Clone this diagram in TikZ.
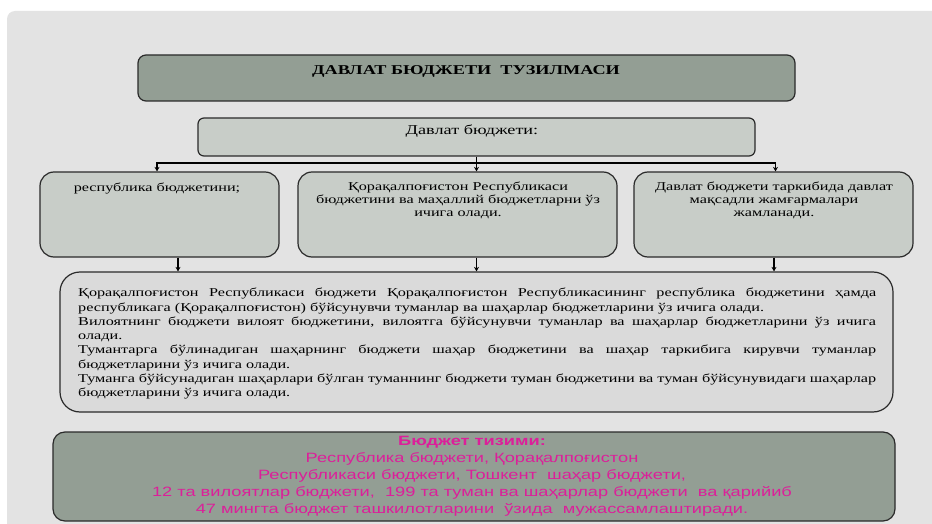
\documentclass[tikz,border=0pt]{standalone}
\usepackage{fontspec}
\setmainfont{Liberation Serif}
\newfontfamily\bodyfont[FakeStretch=1.35]{Liberation Serif}
\newfontfamily\pinkfont[FakeStretch=1.35]{Liberation Sans}
\usetikzlibrary{arrows.meta}
\definecolor{panel}{HTML}{E3E3E3}
\definecolor{darkfill}{HTML}{939E94}
\definecolor{lightfill}{HTML}{C8CDC8}
\definecolor{bigfill}{HTML}{DADADA}
\definecolor{edge}{HTML}{2A2A2A}
\definecolor{pinktext}{HTML}{DC1F9A}
\begin{document}
\begin{tikzpicture}[x=1pt,y=-1pt,
  boxbase/.style={draw=edge,line width=1.2pt,inner sep=0pt},
  darkbox/.style={boxbase,fill=darkfill},
  lightbox/.style={boxbase,fill=lightfill},
  bigbox/.style={boxbase,fill=bigfill,rounded corners=20pt},
  conn/.style={draw=black,line width=1.1pt},
  arrowline/.style={conn,-{Stealth[length=4.5pt,width=5pt]}},
  smalltext/.style={inner sep=0pt,align=center,font={\bodyfont\fontsize{12}{13}\selectfont}},
  pinklines/.style={inner sep=0pt,align=center,text=pinktext,font={\pinkfont\fontsize{13.5}{17}\selectfont}}
]
\useasboundingbox (0,0) rectangle (932,524);
\fill[white] (0,0) rectangle (932,524);
\fill[panel] (7,524) [rounded corners=8pt] -- (7,11) [sharp corners] -- (932,11) -- (932,524) -- cycle;

% boxes
\node[darkbox,rounded corners=8pt,minimum width=657pt,minimum height=46pt] (title) at (466.5,78) {};
\node[lightbox,rounded corners=6pt,minimum width=557pt,minimum height=38pt] (db) at (476.5,137) {};
\node[lightbox,rounded corners=14pt,minimum width=239pt,minimum height=85pt] (L) at (159.5,214.5) {};
\node[lightbox,rounded corners=14pt,minimum width=319pt,minimum height=85pt] (M) at (457.5,214.5) {};
\node[lightbox,rounded corners=14pt,minimum width=279pt,minimum height=85pt] (R) at (773.5,214.5) {};
\node[bigbox,minimum width=833pt,minimum height=140pt] (big) at (476.5,342) {};
\node[darkbox,rounded corners=12pt,minimum width=842pt,minimum height=89pt] (bottom) at (474,476.5) {};

% texts
\node[inner sep=0pt,font={\bodyfont\bfseries\fontsize{13.5}{15}\selectfont},anchor=base] (titletext) at (466,75) {ДАВЛАТ БЮДЖЕТИ\ \ ТУЗИЛМАСИ};
\node[inner sep=0pt,font={\bodyfont\fontsize{13.5}{15}\selectfont},anchor=base] (dbtext) at (472,135) {Давлат бюджети:};
\node[smalltext,anchor=base] (Ltext) at (157,191) {республика бюджетини;};
\node[smalltext,anchor=north] (Mtext) at (458,181.5) {Қорақалпоғистон Республикаси\\бюджетини ва маҳаллий бюджетларни ўз\\ичига олади.};
\node[smalltext,anchor=north] (Rtext) at (774,181.5) {Давлат бюджети таркибида давлат\\мақсадли жамғармалари\\жамланади.};
\node[inner sep=0pt,anchor=north west,text width=798pt,align=justify,font={\bodyfont\fontsize{12}{14.3}\selectfont}] (bigtext) at (78,288) {\hbadness=10000\parindent=0pt
Қорақалпоғистон Республикаси бюджети Қорақалпоғистон Республикасининг республика бюджетини ҳамда\linebreak
республикага (Қорақалпоғистон) бўйсунувчи туманлар ва шаҳарлар бюджетларини ўз ичига олади.\par
Вилоятнинг бюджети вилоят бюджетини, вилоятга бўйсунувчи туманлар ва шаҳарлар бюджетларини ўз ичига\linebreak
олади.\par
Тумантарга бўлинадиган шаҳарнинг бюджети шаҳар бюджетини ва шаҳар таркибига кирувчи туманлар\linebreak
бюджетларини ўз ичига олади.\par
Туманга бўйсунадиган шаҳарлари бўлган туманнинг бюджети туман бюджетини ва туман бўйсунувидаги шаҳарлар\linebreak
бюджетларини ўз ичига олади.};
\node[pinklines,anchor=north] (bottomtext) at (472,436) {\textbf{Бюджет тизими:}\\
Республика бюджети, Қорақалпоғистон\\
Республикаси бюджети, Тошкент\ \ шаҳар бюджети,\\
12 та вилоятлар бюджети,\ \ 199 та туман ва шаҳарлар бюджети\ \ ва қарийиб\\
47 мингта бюджет ташкилотларини\ \ ўзида\ \ мужассамлаштиради.};

% connectors
\coordinate (j) at (db.south |- 0,163);
\draw[conn] (db.south) -- (j);
\draw[arrowline] (j) -| ([xshift=-2.5pt]L.north);
\draw[arrowline] (j) -| ([xshift=2pt]R.north);
\draw[arrowline] (j) -- (j |- M.north);
\draw[arrowline] ([xshift=18.5pt]L.south) -- ([xshift=18.5pt]L.south |- big.north);
\draw[arrowline] (M.south -| j) -- (j |- big.north);
\draw[arrowline] ([xshift=0.5pt]R.south) -- ([xshift=0.5pt]R.south |- big.north);
\end{tikzpicture}
\end{document}
